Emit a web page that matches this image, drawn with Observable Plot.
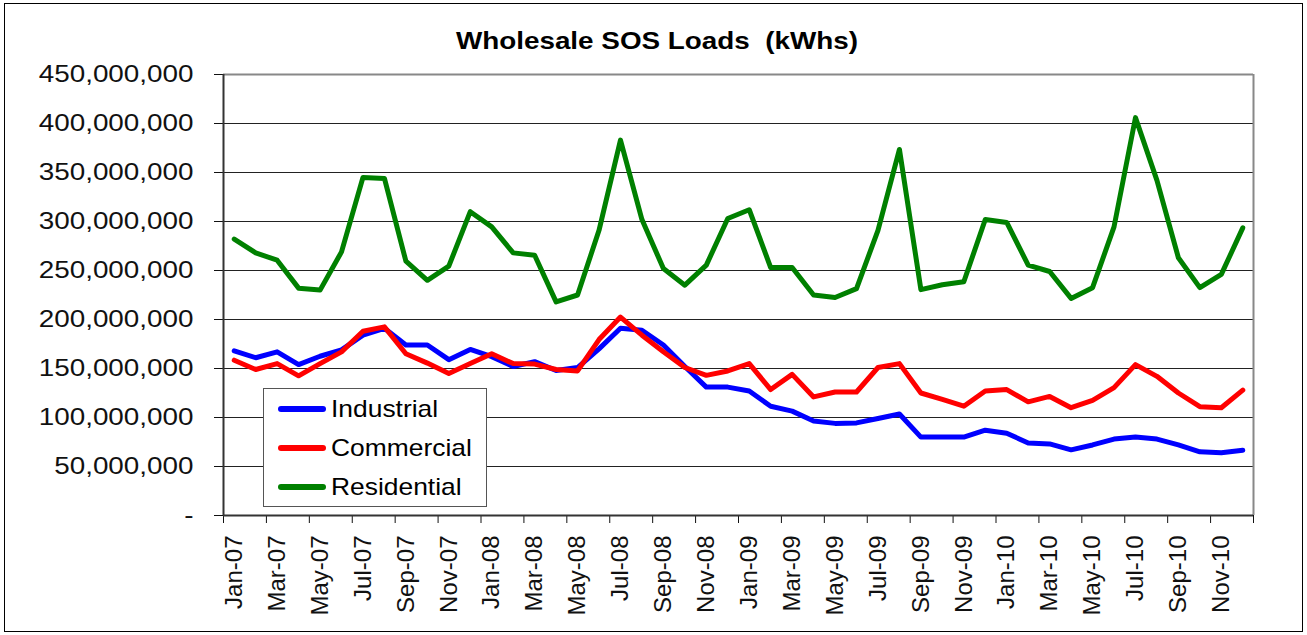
<!DOCTYPE html>
<html>
<head>
<meta charset="utf-8">
<script src="https://cdn.jsdelivr.net/npm/d3@7"></script>
<script src="https://cdn.jsdelivr.net/npm/@observablehq/plot@0.6"></script>
<style>
  body { margin: 0; background: #fff; font-family: "Liberation Sans", Arial, sans-serif; }
  #chart { position: relative; width: 1307px; height: 635px; overflow: hidden; background: #fff; }
  #title { position: relative; height: 60px; }
  #title span { position: absolute; left: 657px; top: 29px; font-size: 24px; line-height: 24px; font-weight: bold; white-space: pre; color: #000;
    transform: translateX(-50%) scaleX(1.16); }
  #frame { position: absolute; left: 4px; top: 3px; width: 1297px; height: 627px; border: 1px solid #000; pointer-events: none; }
  #legend { position: absolute; left: 263px; top: 388px; width: 222px; height: 117px; border: 1px solid #555; background: #fff; }
  .row { position: absolute; left: 0; height: 30px; width: 220px; }
  .swatch { position: absolute; left: 14px; top: 12px; width: 48px; height: 6px; border-radius: 3px; }
  .label { position: absolute; left: 67px; top: 3px; font-size: 24px; line-height: 24px; white-space: pre; color: #000; transform-origin: left center; transform: scaleX(1.1); }
</style>
</head>
<body>
<div id="chart">
  <div id="title"><span>Wholesale SOS Loads  (kWhs)</span></div>
  <div id="plot"></div>
  <div id="legend"></div>
  <div id="frame"></div>
</div>
<script>
const months = ["Jan-07","Feb-07","Mar-07","Apr-07","May-07","Jun-07","Jul-07","Aug-07","Sep-07","Oct-07","Nov-07","Dec-07",
  "Jan-08","Feb-08","Mar-08","Apr-08","May-08","Jun-08","Jul-08","Aug-08","Sep-08","Oct-08","Nov-08","Dec-08",
  "Jan-09","Feb-09","Mar-09","Apr-09","May-09","Jun-09","Jul-09","Aug-09","Sep-09","Oct-09","Nov-09","Dec-09",
  "Jan-10","Feb-10","Mar-10","Apr-10","May-10","Jun-10","Jul-10","Aug-10","Sep-10","Oct-10","Nov-10","Dec-10"];

const industrial = [168e6,161e6,167e6,154e6,162.5e6,169e6,184e6,191e6,174e6,174e6,159e6,169.5e6,
  162e6,152e6,157e6,148e6,151e6,170e6,191e6,189e6,174e6,152e6,131e6,131e6,
  127e6,111.5e6,106.5e6,96.5e6,94e6,94.5e6,99e6,103.5e6,80e6,80e6,80e6,87e6,
  84e6,74e6,73e6,67e6,72e6,78e6,80e6,78e6,72e6,65e6,64e6,66.5e6];

const commercial = [158.5e6,149e6,155e6,142.5e6,155e6,167e6,188e6,192.5e6,165e6,155.5e6,145e6,155e6,
  165e6,155e6,154.5e6,149e6,147.5e6,179.5e6,202.5e6,184e6,167e6,151e6,143e6,147.5e6,
  155e6,128.5e6,144e6,121e6,126e6,126e6,151e6,155e6,125e6,118.5e6,111.5e6,127e6,
  128.5e6,116e6,121.5e6,110e6,117.5e6,130.5e6,154e6,142e6,125e6,111e6,110e6,128e6];

const residential = [282e6,268e6,260.5e6,232e6,230e6,269e6,345e6,344e6,259.5e6,240e6,254.5e6,310e6,
  294.5e6,268e6,265.5e6,218e6,225e6,291e6,383e6,302e6,252e6,235e6,255.5e6,303e6,
  312e6,253e6,253e6,225e6,222.5e6,231.5e6,291e6,373.5e6,230.5e6,235.5e6,238.5e6,302e6,
  299e6,255.5e6,249e6,221.5e6,232.5e6,294.5e6,406e6,342e6,263e6,232.5e6,246e6,293.5e6];

const seriesNames = ["Industrial", "Commercial", "Residential"];
const seriesColors = ["#0000FF", "#FF0000", "#008000"];
const yTicks = [0, 50e6, 100e6, 150e6, 200e6, 250e6, 300e6, 350e6, 400e6, 450e6];
const yGrid = [50e6, 100e6, 150e6, 200e6, 250e6, 300e6, 350e6, 400e6];

const seriesValues = [industrial, commercial, residential];
const rows = [];
seriesNames.forEach((name, s) => {
  months.forEach((m, i) => rows.push({series: name, month: m, idx: i, pos: i + 0.5, value: seriesValues[s][i]}));
});

// category boundaries (every second month) and labelled category centres
const boundaryTicks = months.map((m, i) => i).filter(i => i % 2 === 0).concat([months.length]);
const labelTicks = months.map((m, i) => i).filter(i => i % 2 === 0).map(i => i + 0.5);

const fmt = d3.format(",");

const chart = Plot.plot({
  width: 1307,
  height: 575,
  marginTop: 14,
  marginBottom: 120,
  marginLeft: 223,
  marginRight: 54,
  style: { fontFamily: "Liberation Sans, Arial, sans-serif", fontSize: "24px", color: "#111", background: "transparent" },
  x: { type: "linear", domain: [0, months.length] },
  y: { domain: [0, 450e6] },
  color: { domain: seriesNames, range: seriesColors },
  marks: [
    Plot.gridY(yGrid, { stroke: "#222", strokeOpacity: 1, strokeWidth: 1 }),
    Plot.ruleY([450e6], { stroke: "#888", strokeWidth: 2 }),
    Plot.ruleX([months.length], { stroke: "#888", strokeWidth: 2 }),
    Plot.axisY(yTicks, { tickSize: 9, tickPadding: 21, fontSize: 24, label: null,
      tickFormat: d => d === 0 ? "-" : fmt(d) }),
    Plot.axisX(boundaryTicks, { tickSize: 8, tickFormat: () => "", label: null }),
    Plot.axisX(labelTicks, { tickSize: 0, tickPadding: 20, tickRotate: -90, fontSize: 24, label: null,
      tickFormat: d => months[Math.round(d - 0.5)] }),
    Plot.ruleX([0], { stroke: "#333", strokeWidth: 2 }),
    Plot.ruleY([0], { stroke: "#333", strokeWidth: 2 }),
    Plot.line(rows, { x: "pos", y: "value", z: "series", stroke: "series", strokeWidth: 5,
      strokeLinejoin: "round", strokeLinecap: "round" })
  ]
});
document.getElementById("plot").appendChild(chart);

// Stretch y tick labels horizontally like the original rendering
chart.querySelectorAll('g[aria-label="y-axis tick label"] text').forEach(t => {
  const len = t.getComputedTextLength();
  t.setAttribute("textLength", (len * 1.16).toFixed(1));
  t.setAttribute("lengthAdjust", "spacingAndGlyphs");
});

// Legend
const legend = document.getElementById("legend");
const rowTops = [5, 44, 83];
seriesNames.forEach((name, i) => {
  const r = document.createElement("div");
  r.className = "row";
  r.style.top = rowTops[i] + "px";
  const sw = document.createElement("div");
  sw.className = "swatch";
  sw.style.background = seriesColors[i];
  const lb = document.createElement("div");
  lb.className = "label";
  lb.textContent = name;
  r.appendChild(sw);
  r.appendChild(lb);
  legend.appendChild(r);
});
</script>
</body>
</html>
